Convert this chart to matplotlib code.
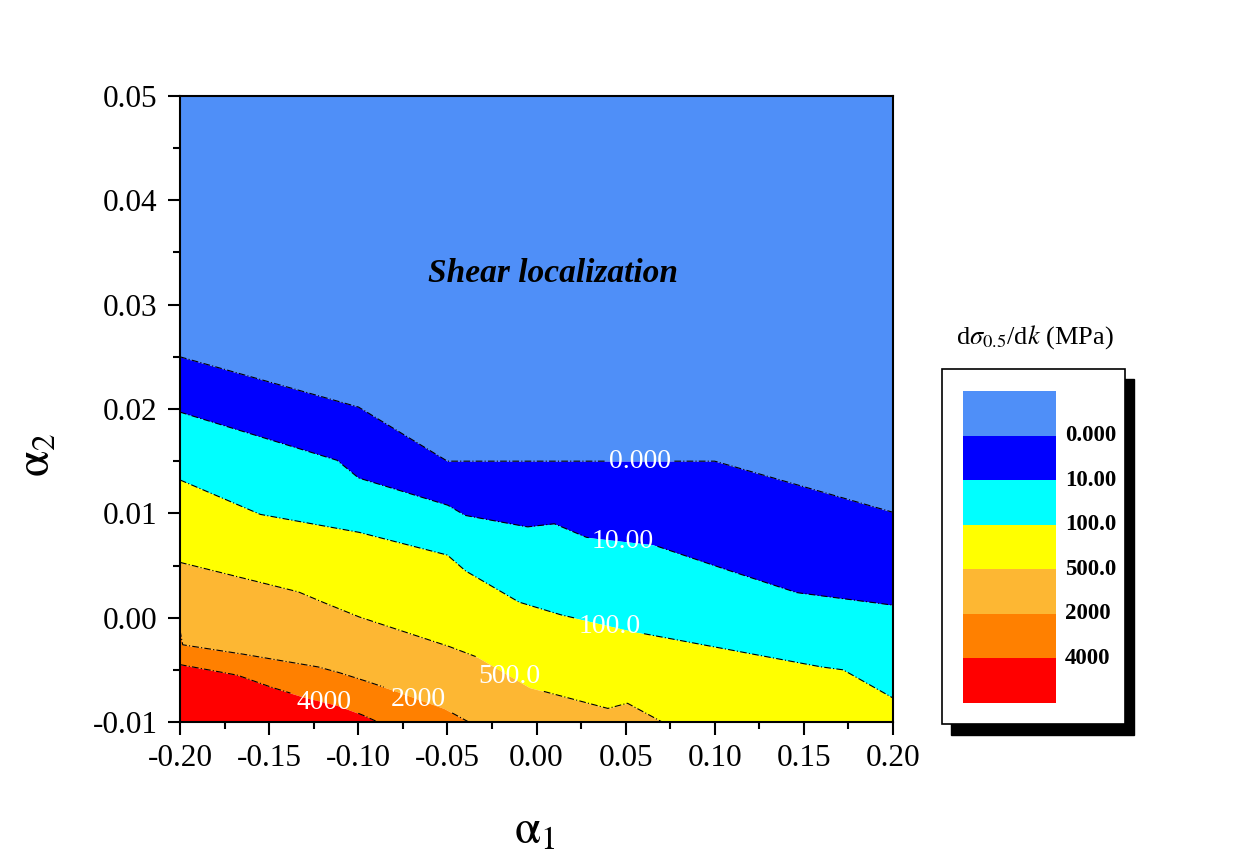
import numpy as np
import matplotlib
matplotlib.use("Agg")
import matplotlib.pyplot as plt
from matplotlib.patches import Rectangle
from matplotlib.ticker import MultipleLocator, FormatStrFormatter

plt.rcParams['font.family'] = ['Liberation Serif', 'DejaVu Serif']
plt.rcParams['mathtext.fontset'] = 'stix'

# ---- data: contour level boundaries (alpha1 -> alpha2) ----
levels = [0.0, 10.0, 100.0, 500.0, 2000.0, 4000.0]
level_labels = ["0.000", "10.00", "100.0", "500.0", "2000", "4000"]
colors = ["#4F8FF8", "#0000FF", "#00FFFF", "#FFFF00", "#FDB733", "#FF8000", "#FF0000"]

b0_x = [-0.20, -0.10, -0.05, 0.10, 0.20]
b0_y = [0.0250, 0.0202, 0.0150, 0.0150, 0.0101]

b1_x = [-0.20, -0.112, -0.10, -0.05, -0.04, -0.005, 0.010, 0.028, 0.065, 0.103, 0.146, 0.20]
b1_y = [0.0197, 0.0151, 0.0134, 0.0108, 0.0098, 0.0087, 0.0090, 0.0077, 0.0070, 0.0048, 0.0024, 0.0012]

b2_x = [-0.20, -0.155, -0.10, -0.05, -0.04, -0.01, 0.013, 0.056, 0.103, 0.159, 0.172, 0.20]
b2_y = [0.0132, 0.0099, 0.0082, 0.0060, 0.0045, 0.0015, 0.0003, -0.0014, -0.0029, -0.0047, -0.0050, -0.0077]

b3_x = [-0.20, -0.134, -0.123, -0.10, -0.05, -0.033, -0.004, 0.040, 0.051, 0.0705]
b3_y = [0.0053, 0.0025, 0.0017, 0.0001, -0.0027, -0.0038, -0.0067, -0.0087, -0.0082, -0.0100]

b4_x = [-0.20, -0.1985, -0.168, -0.123, -0.112, -0.097, -0.078, -0.052, -0.038]
b4_y = [-0.0012, -0.0026, -0.0034, -0.0047, -0.0052, -0.0060, -0.0071, -0.0087, -0.0100]

b5_x = [-0.20, -0.168, -0.150, -0.131, -0.112, -0.098, -0.089]
b5_y = [-0.0045, -0.0055, -0.0066, -0.0076, -0.0084, -0.0093, -0.0100]

boundaries = [(b0_x, b0_y), (b1_x, b1_y), (b2_x, b2_y), (b3_x, b3_y), (b4_x, b4_y), (b5_x, b5_y)]
label_x = [0.058, 0.0485, 0.041, -0.015, -0.0665, -0.119]

XMIN, XMAX, YMIN, YMAX = -0.20, 0.20, -0.01, 0.05

fig = plt.figure(figsize=(12.49, 8.67), dpi=100)
ax = fig.add_axes([180/1249, 1-722/867, 713/1249, 626/867])

xx = np.linspace(XMIN, XMAX, 2001)
prev = np.full_like(xx, YMAX)
for i, (bx, by) in enumerate(boundaries):
    cur = np.interp(xx, bx, by, right=YMIN)
    ax.fill_between(xx, cur, prev, color=colors[i], linewidth=0, zorder=1)
    prev = cur
ax.fill_between(xx, YMIN, prev, color=colors[-1], linewidth=0, zorder=1)

gap = 0.019
for i, (bx, by) in enumerate(boundaries):
    lx = np.linspace(bx[0], bx[-1], 800)
    ly = np.interp(lx, bx, by)
    ly = np.where(np.abs(lx - label_x[i]) < gap, np.nan, ly)
    ax.plot(lx, ly, color='black', lw=0.8, ls=(0, (6, 2, 1, 2)), zorder=2)
    ty = np.interp(label_x[i], bx, by)
    ax.text(label_x[i], ty, level_labels[i], color='white', fontsize=20,
            ha='center', va='center', zorder=3)

ax.text(0.009, 0.0330, "Shear localization", fontsize=24, fontweight='bold',
        fontstyle='italic', ha='center', va='center', zorder=3)

ax.set_xlim(XMIN, XMAX)
ax.set_ylim(YMIN, YMAX)
ax.xaxis.set_major_locator(MultipleLocator(0.05))
ax.xaxis.set_minor_locator(MultipleLocator(0.025))
ax.yaxis.set_major_locator(MultipleLocator(0.01))
ax.yaxis.set_minor_locator(MultipleLocator(0.005))
ax.xaxis.set_major_formatter(FormatStrFormatter('%.2f'))
ax.yaxis.set_major_formatter(FormatStrFormatter('%.2f'))
ax.tick_params(which='major', direction='out', length=9, width=1.5, labelsize=22.5, pad=7)
ax.tick_params(which='minor', direction='out', length=5, width=1.5)
ax.tick_params(top=False, right=False, which='both')
for s in ax.spines.values():
    s.set_linewidth(1.5)
    s.set_zorder(4)

fig.text(535/1249, 1-832/867, r'$\mathrm{\alpha}_\mathrm{1}$', fontsize=34, ha='center', va='center')
fig.text(38/1249, 1-455/867, r'$\mathrm{\alpha}_\mathrm{2}$', fontsize=34, ha='center', va='center', rotation=90)

# ---- legend box (colour key) ----
W, H = 1249.0, 867.0
def fr(x0, y0, x1, y1):
    return (x0/W, 1-y1/H), (x1-x0)/W, (y1-y0)/H

xy, w, h = fr(951, 379, 1134, 735)
fig.patches.append(Rectangle(xy, w, h, transform=fig.transFigure, facecolor='black', edgecolor='black', zorder=1))
xy, w, h = fr(942, 369, 1125, 724)
fig.patches.append(Rectangle(xy, w, h, transform=fig.transFigure, facecolor='white', edgecolor='black', lw=1.2, zorder=2))

sw_top, sw_bot = 391.0, 703.0
band = (sw_bot - sw_top) / len(colors)
for k, c in enumerate(colors):
    y0 = sw_top + k*band
    xy, w, h = fr(963, y0, 1056, y0 + band)
    fig.patches.append(Rectangle(xy, w, h, transform=fig.transFigure, facecolor=c, edgecolor='none', zorder=3))
for k, lab in enumerate(level_labels):
    yb = sw_top + (k+1)*band
    fig.text(1065/W, 1-yb/H, lab, fontsize=16.5, fontweight='bold', ha='left', va='center')

fig.text(1035/W, 1-337/H, r'd$\sigma_{0.5}$/d$k$ (MPa)', fontsize=19, ha='center', va='center')

fig.savefig("out.png", dpi=100, facecolor='white')
